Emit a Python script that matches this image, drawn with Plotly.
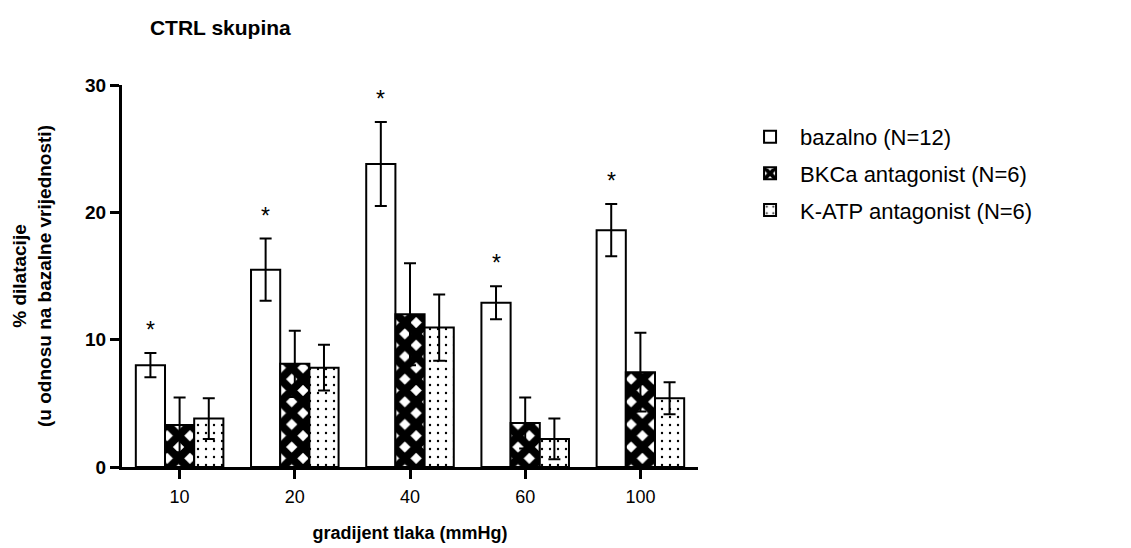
import plotly.graph_objects as go

categories = ["10", "20", "40", "60", "100"]
series_names = ["bazalno (N=12)", "BKCa antagonist (N=6)", "K-ATP antagonist (N=6)"]
bazalno = [8.0, 15.5, 23.8, 12.9, 18.6]
bazalno_err = [0.95, 2.45, 3.3, 1.3, 2.05]
bkca = [3.3, 8.1, 12.0, 3.45, 7.45]
bkca_err = [2.15, 2.6, 4.0, 2.0, 3.1]
katp = [3.8, 7.8, 10.95, 2.2, 5.4]
katp_err = [1.6, 1.8, 2.6, 1.6, 1.25]
star_text = ["*", "*", "*", "*", "*"]
y_ticks = [0, 10, 20, 30]

FONT = "Liberation Sans, Arial, sans-serif"

fig = go.Figure()
styles = [
    None,
    dict(shape="x", fgcolor="black", bgcolor="white", size=16, solidity=0.75, fgopacity=1),
    dict(shape=".", fgcolor="black", bgcolor="white", size=8, solidity=0.07, fgopacity=1),
]
data = [(bazalno, bazalno_err), (bkca, bkca_err), (katp, katp_err)]
for i, (name, (vals, errs)) in enumerate(zip(series_names, data)):
    marker = dict(color="white", line=dict(color="black", width=2))
    if styles[i] is not None:
        marker["pattern"] = styles[i]
    fig.add_trace(go.Bar(
        x=categories, y=vals, name=name, legendgroup=f"g{i}",
        marker=marker,
        error_y=dict(type="data", array=errs, visible=True,
                     color="black", thickness=2, width=6),
    ))

bargap = 0.24
bar_w = (1 - bargap) / 3
for i, c in enumerate(categories):
    fig.add_annotation(
        x=i - bar_w, y=bazalno[i] + bazalno_err[i] + 1.8,
        xref="x", yref="y", text=star_text[i], showarrow=False,
        font=dict(family=FONT, size=23, color="black"),
    )

# the page body adds an 8px offset, so the figure is 8px smaller on each side
fig.update_layout(
    width=1123, height=540,
    margin=dict(l=114, r=433, t=77, b=81),
    plot_bgcolor="white", paper_bgcolor="white",
    barmode="group", bargap=bargap, bargroupgap=0,
    font=dict(family=FONT, color="black"),
    title=dict(text="<b>CTRL skupina</b>", x=0.1264, xref="container", xanchor="left",
               y=0.963, yref="container", yanchor="middle",
               font=dict(family=FONT, size=21, color="black")),
    showlegend=True,
    legend=dict(x=1.073, y=0.919, xanchor="left", yanchor="top",
                traceorder="grouped", tracegroupgap=5, itemwidth=50,
                font=dict(family=FONT, size=22, color="black"),
                bgcolor="rgba(0,0,0,0)"),
)
fig.update_xaxes(
    type="category", showline=True, linecolor="black", linewidth=3,
    ticks="outside", ticklen=9, tickwidth=3, tickcolor="black",
    tickfont=dict(family=FONT, size=18, color="black"), ticklabelstandoff=2,
    showgrid=False, zeroline=False, range=[-0.5, 4.5], automargin=False,
    title=dict(text="<b>gradijent tlaka (mmHg)</b>", standoff=21,
               font=dict(family=FONT, size=18, color="black")),
)
fig.update_yaxes(
    range=[0, 30], tickvals=y_ticks, showline=True, linecolor="black", linewidth=3,
    ticks="outside", ticklen=9, tickwidth=3, tickcolor="black",
    tickfont=dict(family=FONT, size=19, color="black", weight="bold"), ticklabelstandoff=0,
    showgrid=False, zeroline=False, automargin=False,
    title=dict(text="<b>% dilatacije<br>(u odnosu na bazalne vrijednosti)</b>", standoff=29,
               font=dict(family=FONT, size=19, color="black")),
)

fig.write_html("out.html")
